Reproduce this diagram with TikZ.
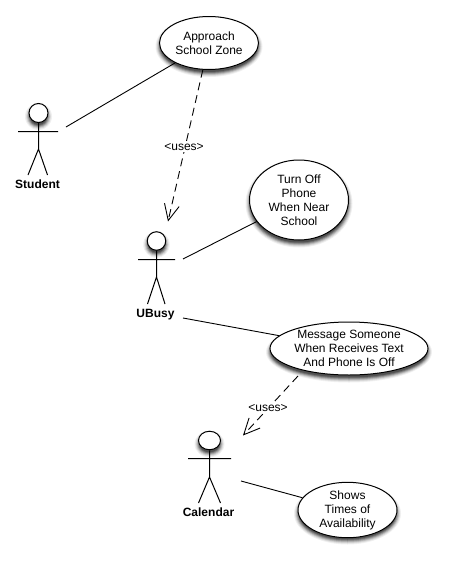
\documentclass[tikz,border=0pt]{standalone}
\usepackage{fontspec}
\setmainfont{Liberation Sans}
\usetikzlibrary{shapes.geometric,arrows.meta}
\newcommand{\softshade}[4]{% centre x, centre y, radius x, radius y
  \foreach \d/\o in {4/6,3/14,2/26,1/40,0/55,-1/68}{
    \fill[black!\o] (#1,#2+3.5) ellipse [x radius=#3+\d,y radius=#4+\d];}}
\tikzset{
  usecase/.style={ellipse,draw=black,fill=white,line width=1pt,inner sep=0pt,align=center,
    font=\fontsize{12}{14}\selectfont},
  head/.style={ellipse,draw=black,fill=white,line width=1pt,inner sep=0pt},
  limb/.style={draw=black,line width=1pt},
  actorname/.style={font=\fontsize{12}{14}\selectfont\bfseries,inner sep=0pt},
  assoc/.style={draw=black,line width=.9pt},
  uses/.style={draw=black,line width=.9pt,dash pattern=on 8pt off 5pt,
    -{Straight Barb[length=16pt,width=15pt,line width=.9pt]}},
  useslabel/.style={fill=white,inner sep=1pt,font=\fontsize{12}{14}\selectfont},
}
\begin{document}
\begin{tikzpicture}[x=1pt,y=-1pt]
\useasboundingbox (0,0) rectangle (448,562);
% shadows under the use cases and heads
\softshade{209}{43}{49.5}{26.5}
\softshade{299}{200}{49.5}{40}
\softshade{349}{348.5}{79}{26.5}
\softshade{347.5}{510}{49.5}{27}
\softshade{38.5}{113}{9.5}{9.5}
\softshade{156.5}{241}{9.25}{9.25}
\softshade{209.5}{440.5}{11}{9.25}
% use cases
\node[usecase,minimum width=99pt,minimum height=53pt] (approach) at (209,43) {Approach\\School Zone};
\node[usecase,minimum width=99pt,minimum height=80pt] (turnoff) at (299,200) {Turn Off\\Phone\\When Near\\School};
\node[usecase,minimum width=158pt,minimum height=53pt] (message) at (349,348.5) {Message Someone\\When Receives Text\\And Phone Is Off};
\node[usecase,minimum width=99pt,minimum height=54pt] (shows) at (347.5,510) {Shows\\Times of\\Availability};
% Student
\node[head,minimum width=19pt,minimum height=19pt] (h1) at (38.5,113) {};
\coordinate (c1) at (38.5,149);
\coordinate (a1l) at (18,131.5); \coordinate (a1r) at (58,131.5);
\coordinate (l1l) at (28,175); \coordinate (l1r) at (47.5,175);
\draw[limb] (h1) -- (c1) (a1l) -- (a1r) (l1l) -- (c1) -- (l1r);
\node[actorname] (student) at (37.5,184) {Student};
% UBusy
\node[head,minimum width=18.5pt,minimum height=18.5pt] (h2) at (156.5,241) {};
\coordinate (c2) at (156.5,277);
\coordinate (a2l) at (138,259.5); \coordinate (a2r) at (175,259.5);
\coordinate (l2l) at (147.5,304); \coordinate (l2r) at (165,304);
\draw[limb] (h2) -- (c2) (a2l) -- (a2r) (l2l) -- (c2) -- (l2r);
\node[actorname] (ubusy) at (155.5,314.5) {UBusy};
% Calendar
\node[head,minimum width=22pt,minimum height=18.5pt] (h3) at (209.5,440.5) {};
\coordinate (c3) at (209.5,477);
\coordinate (a3l) at (188,458.5); \coordinate (a3r) at (231,458.5);
\coordinate (l3l) at (198.5,503); \coordinate (l3r) at (220.5,503);
\draw[limb] (h3) -- (c3) (a3l) -- (a3r) (l3l) -- (c3) -- (l3r);
\node[actorname] (calendar) at (208.5,512.5) {Calendar};
% connector ends
\coordinate (sa) at (66,127);
\coordinate (ua) at (183,259);
\coordinate (ub) at (183,318);
\coordinate (ca) at (241,481);
\coordinate (ut) at (168,221.5);
\coordinate (mf) at (298,376);
\coordinate (ct) at (243,435.5);
\draw[assoc] (sa) -- (approach);
\draw[assoc] (ua) -- (turnoff);
\draw[assoc] (ub) -- (message);
\draw[assoc] (ca) -- (shows);
\draw[uses] (approach) -- (ut);
\draw[uses] (mf) -- (ct);
\node[useslabel] (u1) at (184,147.5) {<uses>};
\node[useslabel] (u2) at (268,408) {<uses>};
\end{tikzpicture}
\end{document}
